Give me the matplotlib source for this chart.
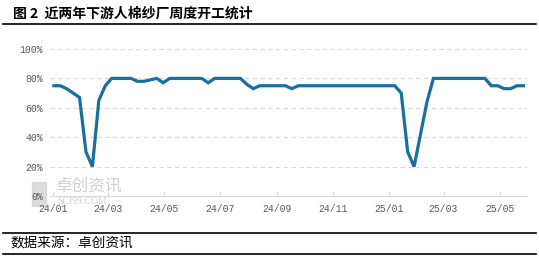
import numpy as np
import pandas as pd
import matplotlib
matplotlib.use("Agg")
import matplotlib.pyplot as plt

plt.rcParams['font.family'] = ['Noto Sans CJK SC', 'DejaVu Sans']

title = '图 2  近两年下游人棉纱厂周度开工统计'
source = '数据来源：卓创资讯'

# weekly operating rate, %
dates = pd.date_range('2024-01-02', periods=74, freq='7D')
rate = [75, 75, 73, 70, 67, 30, 20, 65, 75, 80,
        80, 80, 80, 78, 78, 79, 80, 77, 80, 80,
        80, 80, 80, 80, 77, 80, 80, 80, 80, 80,
        76, 73, 75, 75, 75, 75, 75, 73, 75, 75,
        75, 75, 75, 75, 75, 75, 75, 75, 75, 75,
        75, 75, 75, 75, 70, 30, 20, 42, 64, 80,
        80, 80, 80, 80, 80, 80, 80, 80, 75, 75,
        73, 73, 75, 75]

tick_dates = pd.to_datetime(['2024-01-01', '2024-03-01', '2024-05-01', '2024-07-01',
                             '2024-09-01', '2024-11-01', '2025-01-01', '2025-03-01',
                             '2025-05-01'])
tick_labels = ['24/01', '24/03', '24/05', '24/07', '24/09', '24/11', '25/01', '25/03', '25/05']
yticks = [0, 20, 40, 60, 80, 100]

fig = plt.figure(figsize=(5.39, 2.62), dpi=100)
ax = fig.add_axes([0.093, 0.252, 0.885, 0.561])

# watermark (behind the data)
fig.add_artist(plt.Rectangle((0.060, 0.215), 0.025, 0.09, color='#d4d4d4', alpha=0.8, zorder=0))
fig.text(0.103, 0.292, '卓创资讯', fontsize=12, color='#d0d0d0', va='center', zorder=0)
fig.text(0.106, 0.232, 'SCI99.COM', fontsize=7, color='#d0d0d0', va='center',
         family='Liberation Serif', zorder=0)

ax.patch.set_alpha(0)
ax.plot(dates, rate, color='#17709f', lw=2.3, solid_joinstyle='miter', zorder=3)

ax.set_ylim(0, 100)
ax.set_xlim(pd.Timestamp('2023-12-29'), pd.Timestamp('2025-05-31'))
ax.set_yticks(yticks)
ax.set_yticklabels([f'{v}%' for v in yticks])
ax.set_xticks(tick_dates)
ax.set_xticklabels(tick_labels)
ax.yaxis.grid(True, ls=(0, (4, 3)), color='#d9d9d9', lw=0.8)
ax.set_axisbelow(True)
for s in ['top', 'right', 'left']:
    ax.spines[s].set_visible(False)
ax.spines['bottom'].set_color('#d9d9d9')
ax.tick_params(axis='y', length=0, labelsize=7, labelcolor='#595959', pad=5)
ax.tick_params(axis='x', length=3, color='#d9d9d9', labelsize=7, labelcolor='#595959',
               pad=6, direction='in')
for lab in ax.get_xticklabels() + ax.get_yticklabels():
    lab.set_family(['Liberation Mono', 'DejaVu Sans'])

# header / footer
fig.text(0.024, 0.947, title, fontsize=10, fontweight='bold', va='center', ha='left')
fig.add_artist(plt.Line2D([0.005, 0.995], [0.908, 0.908], color='black', lw=1.2))
fig.add_artist(plt.Line2D([0.005, 0.995], [0.11, 0.11], color='black', lw=1.2))
fig.add_artist(plt.Line2D([0.005, 0.995], [0.03, 0.03], color='black', lw=1.2))
fig.text(0.02, 0.07, source, fontsize=9.8, va='center', ha='left')

fig.savefig('out.png', dpi=100)
